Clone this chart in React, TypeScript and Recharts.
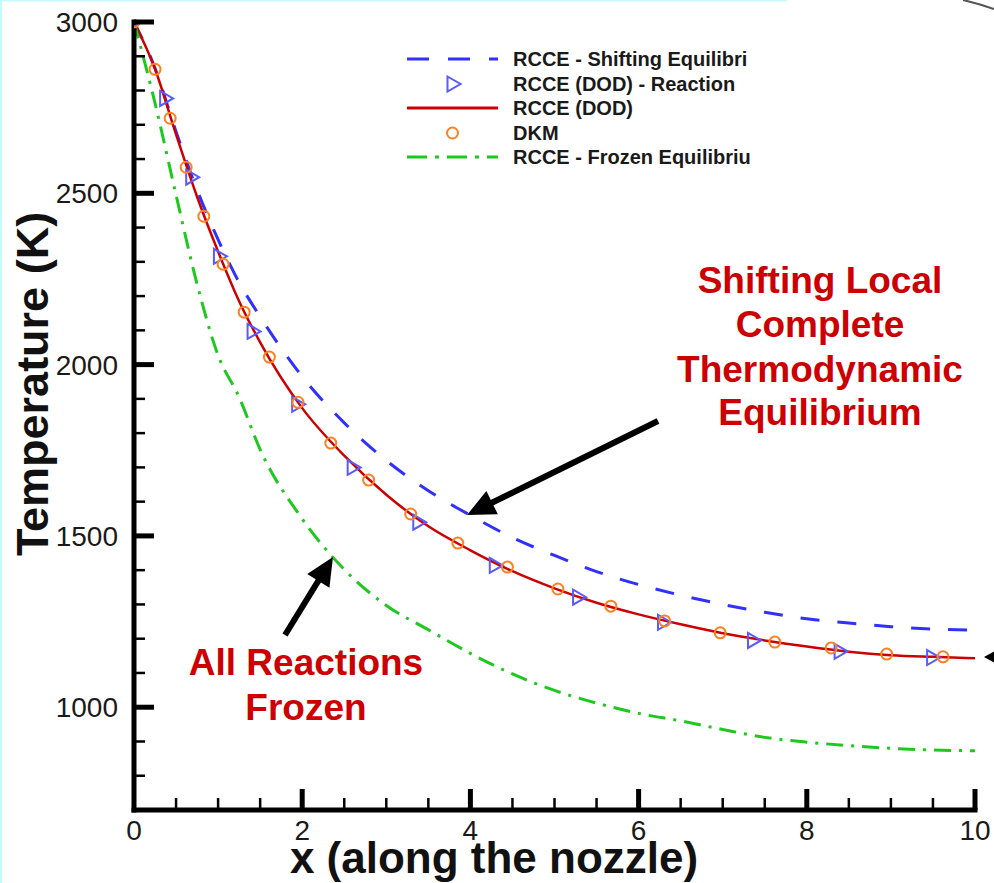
import React from 'react';
import { LineChart, Line, XAxis, YAxis } from 'recharts';

const W = 994;
const H = 883;
const FONT = '"Liberation Sans", Arial, Helvetica, sans-serif';

// ---- axis ticks ----
const xTickValues = [0, 0.5, 1, 1.5, 2, 2.5, 3, 3.5, 4, 4.5, 5, 5.5, 6, 6.5, 7, 7.5, 8, 8.5, 9, 9.5, 10];
const xTickLabels = [0, 2, 4, 6, 8, 10];
const yTickValues = [700, 800, 900, 1000, 1100, 1200, 1300, 1400, 1500, 1600, 1700, 1800, 1900, 2000, 2100, 2200, 2300, 2400, 2500, 2600, 2700, 2800, 2900, 3000];
const yTickLabels = [1000, 1500, 2000, 2500, 3000];

// ---- series ----
const gridX = [0, 0.25, 0.5, 0.75, 1, 1.25, 1.5, 2, 2.5, 3, 3.5, 4, 4.5, 5, 5.5, 6, 6.5, 7, 7.5, 8, 8.5, 9, 9.5, 10];
const shiftingT = [3000, 2865, 2680, 2510, 2365, 2240, 2140, 1965, 1830, 1720, 1632, 1560, 1495, 1443, 1396, 1358, 1327, 1300, 1277, 1258, 1246, 1235, 1228, 1225];
const dodT = [3000, 2863, 2672, 2490, 2330, 2185, 2065, 1873, 1734, 1620, 1528, 1458, 1397, 1347, 1305, 1271, 1242, 1216, 1195, 1177, 1162, 1152, 1147, 1143];
const frozenT = [3000, 2763, 2495, 2235, 2027, 1905, 1752, 1550, 1402, 1297, 1226, 1157, 1097, 1049, 1012, 982, 960, 935, 912, 898, 888, 880, 875, 873];

const reactionX = [0, 0.37, 0.68, 1.01, 1.41, 1.94, 2.6, 3.38, 4.29, 5.28, 6.29, 7.36, 8.39, 9.49];
const reactionT = [3000, 2777, 2547, 2316, 2097, 1884, 1700, 1540, 1414, 1321, 1248, 1195, 1163, 1145];

const dkmX = [0, 0.25, 0.43, 0.62, 0.83, 1.06, 1.31, 1.61, 1.95, 2.34, 2.79, 3.29, 3.85, 4.44, 5.04, 5.67, 6.31, 6.97, 7.62, 8.29, 8.95, 9.62];
const dkmT = [3000, 2862, 2719, 2576, 2433, 2293, 2153, 2022, 1890, 1771, 1663, 1564, 1479, 1409, 1345, 1295, 1252, 1217, 1190, 1173, 1155, 1147];

const legendLabels = [
  'RCCE - Shifting Equilibri',
  'RCCE (DOD) - Reaction',
  'RCCE (DOD)',
  'DKM',
  'RCCE - Frozen Equilibriu',
];

const COLORS = {
  shifting: '#3030ff',
  reaction: '#5a5aff',
  dod: '#cc0000',
  dkm: '#ff8020',
  frozen: '#1ec81e',
  note: '#cc0000',
};

const toPoints = (xs: number[], ts: number[]) => xs.map((x, i) => ({ x, T: ts[i] }));
const shiftingData = toPoints(gridX, shiftingT);
const dodData = toPoints(gridX, dodT);
const frozenData = toPoints(gridX, frozenT);
const reactionData = toPoints(reactionX, reactionT);
const dkmData = toPoints(dkmX, dkmT);

const YTick = (props: any) => {
  const { x, y, payload } = props;
  const v = payload.value;
  if (v === 700) return <g />;
  const major = yTickLabels.includes(v);
  return (
    <g>
      <line x1={x} x2={x + (major ? 20 : 11)} y1={y} y2={y} stroke="#000" strokeWidth={major ? 5 : 2.5} />
      {major && (
        <text x={x - 16} y={y + 10} textAnchor="end" fontSize={28} fill="#1a1a1a" fontFamily={FONT}>
          {v}
        </text>
      )}
    </g>
  );
};

const XTick = (props: any) => {
  const { x, y, payload } = props;
  const v = payload.value;
  const major = xTickLabels.includes(v);
  return (
    <g>
      {v !== 0 && (
        <line x1={x} x2={x} y1={y} y2={y - (major ? 21 : 12)} stroke="#000" strokeWidth={major ? 5 : 2.5} />
      )}
      {major && (
        <text x={x} y={y + 30} textAnchor="middle" fontSize={28} fill="#1a1a1a" fontFamily={FONT}>
          {v}
        </text>
      )}
    </g>
  );
};

const TriangleDot = (props: any) => {
  const { cx, cy, index } = props;
  if (cx == null || cy == null) return <g key={`tri-${index}`} />;
  return (
    <path
      key={`tri-${index}`}
      d={`M${cx - 5},${cy - 7.5} L${cx + 8},${cy} L${cx - 5},${cy + 7.5} Z`}
      fill="none"
      stroke={COLORS.reaction}
      strokeWidth={2}
    />
  );
};

const CircleDot = (props: any) => {
  const { cx, cy, index } = props;
  if (cx == null || cy == null) return <g key={`dkm-${index}`} />;
  return <circle key={`dkm-${index}`} cx={cx} cy={cy} r={5.5} fill="none" stroke={COLORS.dkm} strokeWidth={2} />;
};

function Arrow({ x1, y1, x2, y2, head = 28, half = 13, w = 6 }: any) {
  const dx = x2 - x1;
  const dy = y2 - y1;
  const L = Math.hypot(dx, dy);
  const ux = dx / L;
  const uy = dy / L;
  const bx = x2 - ux * head;
  const by = y2 - uy * head;
  const px = -uy;
  const py = ux;
  return (
    <g>
      <line x1={x1} y1={y1} x2={bx + ux * 2} y2={by + uy * 2} stroke="#000" strokeWidth={w} />
      <polygon points={`${x2},${y2} ${bx + px * half},${by + py * half} ${bx - px * half},${by - py * half}`} fill="#000" />
    </g>
  );
}

function Overlay() {
  const lx1 = 407;
  const lx2 = 498;
  const rowY = [59, 84, 108, 133, 157];
  const mid = (lx1 + lx2) / 2;
  const legendText = (i: number) => (
    <text key={`lt${i}`} x={513} y={rowY[i] + 7} fontSize={20} fontWeight="bold" fill="#1a1a1a" fontFamily={FONT}>
      {legendLabels[i]}
    </text>
  );
  const noteProps = { fontSize: 37, fontWeight: 'bold', fill: COLORS.note, fontFamily: FONT, textAnchor: 'middle' as const };
  return (
    <svg width={W} height={H} style={{ position: 'absolute', left: 0, top: 0, pointerEvents: 'none' }}>
      {/* slide frame remnants */}
      <rect x={0} y={0} width={2} height={H} fill="#c6fbfb" />
      <rect x={0} y={0} width={787} height={1.5} fill="#c6fbfb" />
      <path d="M963,0 Q980,4 994,9" stroke="#555" strokeWidth={2} fill="none" />

      {/* legend */}
      <line x1={lx1} x2={lx2} y1={rowY[0]} y2={rowY[0]} stroke={COLORS.shifting} strokeWidth={3} strokeDasharray="22 19" />
      <path
        d={`M${mid - 5},${rowY[1] - 7.5} L${mid + 8},${rowY[1]} L${mid - 5},${rowY[1] + 7.5} Z`}
        fill="none"
        stroke={COLORS.reaction}
        strokeWidth={2}
      />
      <line x1={lx1} x2={lx2} y1={rowY[2]} y2={rowY[2]} stroke={COLORS.dod} strokeWidth={3} />
      <circle cx={mid} cy={rowY[3]} r={5.5} fill="none" stroke={COLORS.dkm} strokeWidth={2} />
      <line x1={lx1} x2={lx2} y1={rowY[4]} y2={rowY[4]} stroke={COLORS.frozen} strokeWidth={3} strokeDasharray="20 8 4 8" />
      {[0, 1, 2, 3, 4].map(legendText)}

      {/* annotations */}
      <text x={820} y={293} {...noteProps}>Shifting Local</text>
      <text x={820} y={337} {...noteProps}>Complete</text>
      <text x={820} y={382} {...noteProps}>Thermodynamic</text>
      <text x={820} y={425} {...noteProps}>Equilibrium</text>
      <text x={306} y={675} {...noteProps}>All Reactions</text>
      <text x={306} y={720} {...noteProps}>Frozen</text>

      <Arrow x1={658} y1={421} x2={467} y2={515} />
      <Arrow x1={285} y1={635} x2={333} y2={557} />
      <polygon points="984,657 997,650 997,664" fill="#000" />

      {/* axis titles */}
      <text
        x={48}
        y={384}
        transform="rotate(-90 48 384)"
        textAnchor="middle"
        fontSize={45}
        fontWeight="bold"
        fill="#111"
        fontFamily={FONT}
      >
        Temperature (K)
      </text>
      <text x={494} y={873} textAnchor="middle" fontSize={44} fontWeight="bold" fill="#111" fontFamily={FONT}>
        x (along the nozzle)
      </text>
    </svg>
  );
}

export default function App() {
  return (
    <div style={{ position: 'absolute', left: 0, top: 0, width: W, height: H, background: '#fff', overflow: 'hidden' }}>
      <LineChart width={W} height={H} margin={{ top: 22, right: 19, bottom: 0, left: 0 }}>
        <XAxis
          type="number"
          dataKey="x"
          domain={[0, 10]}
          ticks={xTickValues}
          interval={0}
          height={73}
          tickSize={0}
          tickMargin={0}
          tickLine={false}
          axisLine={{ stroke: '#000', strokeWidth: 5, strokeLinecap: 'square' }}
          tick={XTick}
          allowDataOverflow
        />
        <YAxis
          type="number"
          dataKey="T"
          domain={[700, 3000]}
          ticks={yTickValues}
          interval={0}
          width={134}
          tickSize={0}
          tickMargin={0}
          tickLine={false}
          axisLine={{ stroke: '#000', strokeWidth: 5, strokeLinecap: 'square' }}
          tick={YTick}
          allowDataOverflow
        />
        <Line
          data={shiftingData}
          dataKey="T"
          type="monotone"
          stroke={COLORS.shifting}
          strokeWidth={3}
          strokeDasharray="19 18"
          dot={false}
          activeDot={false}
          isAnimationActive={false}
        />
        <Line
          data={reactionData}
          dataKey="T"
          stroke="none"
          dot={TriangleDot}
          activeDot={false}
          isAnimationActive={false}
        />
        <Line
          data={dodData}
          dataKey="T"
          type="monotone"
          stroke={COLORS.dod}
          strokeWidth={2.5}
          dot={false}
          activeDot={false}
          isAnimationActive={false}
        />
        <Line
          data={dkmData}
          dataKey="T"
          stroke="none"
          dot={CircleDot}
          activeDot={false}
          isAnimationActive={false}
        />
        <Line
          data={frozenData}
          dataKey="T"
          type="monotone"
          stroke={COLORS.frozen}
          strokeWidth={3}
          strokeDasharray="17 8 3 8"
          dot={false}
          activeDot={false}
          isAnimationActive={false}
        />
      </LineChart>
      <Overlay />
    </div>
  );
}
